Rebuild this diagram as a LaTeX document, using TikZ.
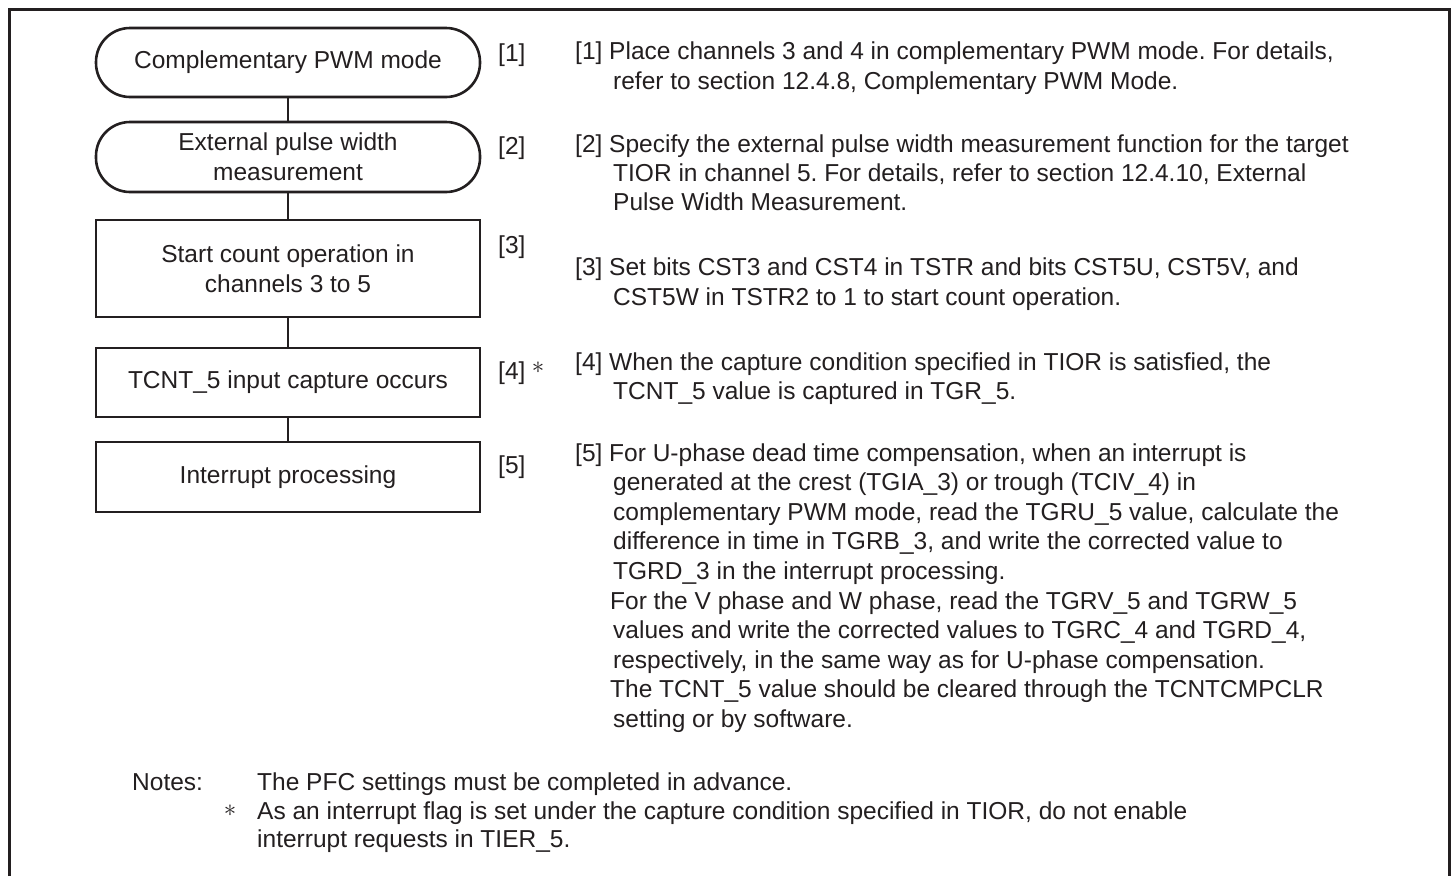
\documentclass[tikz,border=0pt]{standalone}
\usepackage{fontspec}
\setmainfont{Liberation Sans}
\frenchspacing
\definecolor{ink}{HTML}{231F20}
\newcommand{\tline}[4]{\node[txt,anchor=base west] (#1) at (#2,#3) {#4};}
\begin{document}
\begin{tikzpicture}[x=1pt,y=-1pt,
  txt/.style={font=\fontsize{24.5}{29.6}\selectfont\frenchspacing, inner sep=0pt, text=ink},
  flowbox/.style={draw=ink, line width=2.6pt, minimum width=384pt, inner sep=0pt, align=center, txt},
  stadium/.style={flowbox, rounded corners=34pt},
  link/.style={draw=ink, line width=1.3pt},
  frameline/.style={draw=ink, line width=3pt}]
\useasboundingbox (0,0) rectangle (1455,876);
\fill[white] (0,0) rectangle (1455,876);
% frame (open at the bottom)
\coordinate (fbl) at (9.5,876);
\coordinate (ftl) at (9.5,9.5);
\coordinate (ftr) at (1449.5,9.5);
\coordinate (fbr) at (1449.5,876);
\draw[frameline] (fbl) -- (ftl) -- (ftr) -- (fbr);
% flowchart
\node[stadium, minimum height=69pt] (b1) at (288,62.5) {Complementary PWM mode};
\node[stadium, minimum height=70pt] (b2) at (288,157) {External pulse width\\measurement};
\node[flowbox, minimum height=97pt] (b3) at (288,268.5) {Start count operation in\\channels 3 to 5};
\node[flowbox, minimum height=69pt] (b4) at (288,382.5) {TCNT\_5 input capture occurs};
\node[flowbox, minimum height=70pt] (b5) at (288,477) {Interrupt processing};
\draw[link] (b1) -- (b2);
\draw[link] (b2) -- (b3);
\draw[link] (b3) -- (b4);
\draw[link] (b4) -- (b5);
% step labels
\tline{l1}{498}{61}{[1]}
\tline{l2}{498}{154}{[2]}
\tline{l3}{498}{253}{[3]}
\tline{l4}{498}{379}{[4]}
\node[txt] (s4) at (538,368) {$\ast$};
\tline{l5}{498}{473}{[5]}
% descriptions
\tline{p1a}{575}{59}{[1] Place channels 3 and 4 in complementary PWM mode. For details,}
\tline{p1b}{613}{89}{refer to section 12.4.8, Complementary PWM Mode.}
\tline{p2a}{575}{152}{[2] Specify the external pulse width measurement function for the target}
\tline{p2b}{613}{181}{TIOR in channel 5. For details, refer to section 12.4.10, External}
\tline{p2c}{613}{210}{Pulse Width Measurement.}
\tline{p3a}{575}{275}{[3] Set bits CST3 and CST4 in TSTR and bits CST5U, CST5V, and}
\tline{p3b}{613}{305}{CST5W in TSTR2 to 1 to start count operation.}
\tline{p4a}{575}{370}{[4] When the capture condition specified in TIOR is satisfied, the}
\tline{p4b}{613}{399}{TCNT\_5 value is captured in TGR\_5.}
\tline{p5a}{575}{461}{[5] For U-phase dead time compensation, when an interrupt is}
\tline{p5b}{613}{490.6}{generated at the crest (TGIA\_3) or trough (TCIV\_4) in}
\tline{p5c}{613}{520.2}{complementary PWM mode, read the TGRU\_5 value, calculate the}
\tline{p5d}{613}{549.8}{difference in time in TGRB\_3, and write the corrected value to}
\tline{p5e}{613}{579.4}{TGRD\_3 in the interrupt processing.}
\tline{p5f}{610}{609}{For the V phase and W phase, read the TGRV\_5 and TGRW\_5}
\tline{p5g}{613}{638.6}{values and write the corrected values to TGRC\_4 and TGRD\_4,}
\tline{p5h}{613}{668.2}{respectively, in the same way as for U-phase compensation.}
\tline{p5i}{610}{697.8}{The TCNT\_5 value should be cleared through the TCNTCMPCLR}
\tline{p5j}{613}{727.4}{setting or by software.}
% notes
\tline{n0}{132}{790}{Notes:}
\tline{n1}{257}{790}{The PFC settings must be completed in advance.}
\node[txt] (ns) at (230,811) {$\ast$};
\tline{n2}{257}{819}{As an interrupt flag is set under the capture condition specified in TIOR, do not enable}
\tline{n3}{257}{847}{interrupt requests in TIER\_5.}
\end{tikzpicture}
\end{document}
